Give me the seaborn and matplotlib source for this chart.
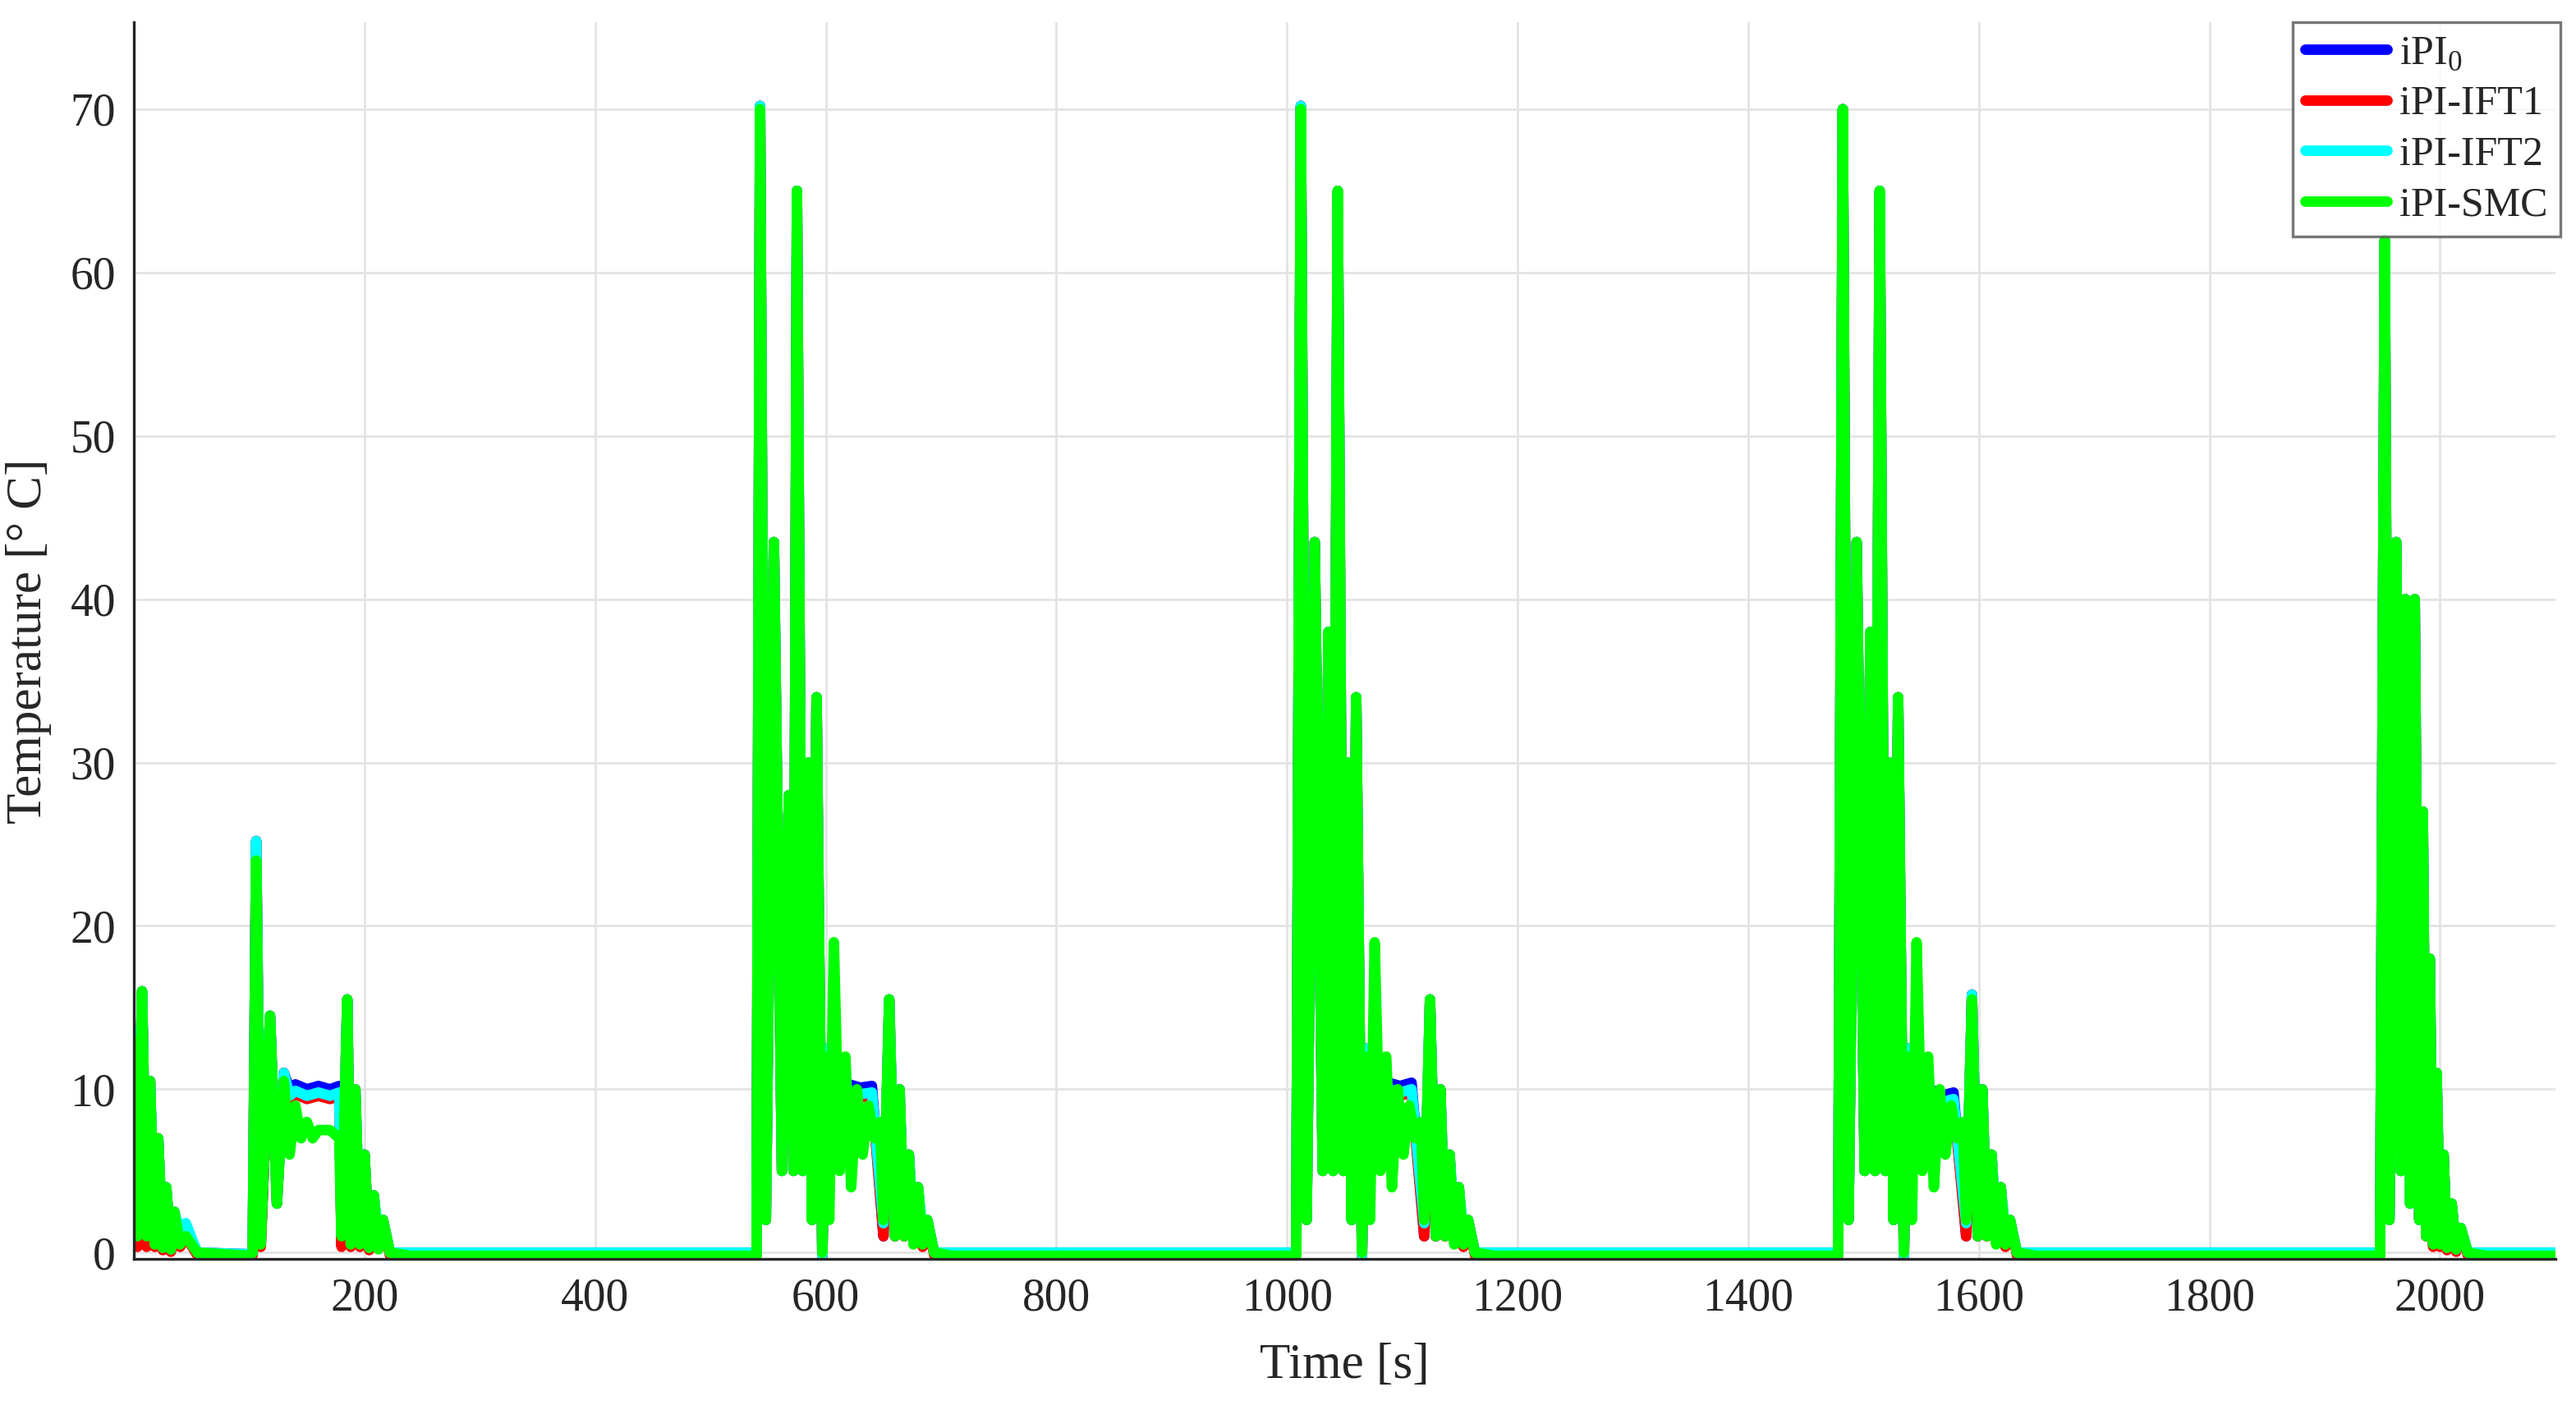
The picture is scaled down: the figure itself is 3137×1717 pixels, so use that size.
import numpy as np
import pandas as pd
import matplotlib
matplotlib.use("Agg")
import matplotlib.pyplot as plt
import seaborn as sns

series_names = ["iPI$_0$", "iPI-IFT1", "iPI-IFT2", "iPI-SMC"]
series_colors = ["#0000ff", "#ff0000", "#00ffff", "#00ff00"]

# --- green (iPI-SMC) keypoints ---
smc_t = [0, 3, 7, 11, 14, 18, 21, 25, 28, 32, 35, 40, 45, 55, 100,
         103, 106, 110, 118, 124, 130, 135, 140, 145, 150, 155, 160, 170, 178, 180, 185, 188, 192, 196, 200, 204, 208, 212, 216, 222, 240, 540,
         543, 548, 555, 562, 568, 572, 575, 580, 585, 588, 592, 597, 600, 603, 607, 612, 617, 622, 627, 632, 637, 642, 647, 650, 655, 660, 664, 668, 672, 676, 680, 684, 688, 694, 710, 1008,
         1012, 1017, 1024, 1031, 1036, 1040, 1044, 1049, 1053, 1056, 1060, 1065, 1068, 1072, 1076, 1081, 1086, 1091, 1096, 1101, 1106, 1111, 1116, 1119, 1124, 1129, 1133, 1137, 1141, 1145, 1149, 1153, 1157, 1163, 1180, 1478,
         1482, 1487, 1494, 1501, 1506, 1510, 1514, 1519, 1523, 1526, 1530, 1535, 1538, 1542, 1546, 1551, 1556, 1561, 1566, 1571, 1576, 1581, 1586, 1589, 1594, 1599, 1603, 1607, 1611, 1615, 1619, 1623, 1627, 1633, 1650, 1948,
         1952, 1956, 1962, 1966, 1970, 1974, 1978, 1982, 1985, 1988, 1991, 1994, 1997, 2000, 2003, 2006, 2010, 2014, 2018, 2024, 2040, 2100]
smc_v = [13, 1, 16, 1, 10.5, 0.5, 7, 0.3, 4, 0.2, 2.5, 0.5, 1, 0, -0.2,
         0, 24, 0.5, 14.5, 3, 10.5, 6, 9, 7, 8, 7, 7.5, 7.5, 7, 1, 15.5, 0.5, 10, 0.5, 6, 0.3, 3.5, 0.2, 2, 0, -0.2, -0.2,
         70, 2, 43.5, 5, 28, 5, 65, 5, 30, 2, 34, 0, 12, 2, 19, 5, 12, 4, 10, 6, 9, 7, 8, 2, 15.5, 1, 10, 1, 6, 0.5, 4, 0.5, 2, 0, -0.2, -0.2,
         70, 2, 43.5, 5, 38, 5, 65, 5, 30, 2, 34, 0, 12, 2, 19, 5, 12, 4, 10, 6, 9, 7, 8, 2, 15.5, 1, 10, 1, 6, 0.5, 4, 0.5, 2, 0, -0.2, -0.2,
         70, 2, 43.5, 5, 38, 5, 65, 5, 30, 2, 34, 0, 12, 2, 19, 5, 12, 4, 10, 6, 9, 7, 8, 2, 15.5, 1, 10, 1, 6, 0.5, 4, 0.5, 2, 0, -0.2, -0.2,
         62, 2, 43.5, 5, 40, 3, 40, 2, 27, 1, 18, 0.5, 11, 0.5, 6, 0.3, 3, 0.2, 1.5, 0, -0.2, -0.2]

# --- blue (iPI_0) keypoints: plateaus near 10 where the controller settles ---
pi0_t = [0, 3, 7, 11, 14, 18, 21, 25, 28, 32, 35, 40, 45, 55, 100,
         103, 106, 110, 118, 124, 130, 135, 140, 150, 160, 170, 178, 180, 185, 188, 192, 196, 200, 204, 208, 212, 216, 222, 240, 540,
         543, 548, 555, 562, 568, 572, 575, 580, 585, 588, 592, 597, 600, 610, 620, 630, 640, 650, 655, 660, 664, 668, 672, 676, 680, 684, 688, 694, 710, 1008,
         1012, 1017, 1024, 1031, 1036, 1040, 1044, 1049, 1053, 1056, 1060, 1065, 1068, 1078, 1088, 1098, 1108, 1119, 1124, 1129, 1133, 1137, 1141, 1145, 1149, 1153, 1157, 1163, 1180, 1478,
         1482, 1487, 1494, 1501, 1506, 1510, 1514, 1519, 1523, 1526, 1530, 1535, 1538, 1548, 1558, 1568, 1578, 1589, 1594, 1599, 1603, 1607, 1611, 1615, 1619, 1623, 1627, 1633, 1650, 1948,
         1952, 1956, 1962, 1966, 1970, 1974, 1978, 1982, 1985, 1988, 1991, 1994, 1997, 2000, 2003, 2006, 2010, 2014, 2018, 2024, 2040, 2100]
pi0_v = [13.5, 0.5, 16, 0.5, 10.5, 0.5, 7, 0.3, 4, 0.2, 2.5, 0.5, 1, 0, -0.1,
         0, 25.2, 0.5, 14.5, 3, 11, 10, 10.3, 10, 10.2, 10, 10.2, 0.5, 15.5, 0.5, 10, 0.5, 6, 0.3, 3.5, 0.5, 2, 0, 0, 0,
         70.2, 2, 43.5, 5, 28, 5, 65, 5, 30, 2, 34, -0.2, 12.5, 11, 10.3, 10.1, 10.2, 1, 15.5, 1, 10, 1, 6, 1, 4, 0.5, 2, 0, 0, 0,
         70.2, 2, 43.5, 5, 38, 5, 65, 5, 30, 2, 34, -0.2, 12.5, 11, 10.4, 10.2, 10.4, 1, 15.5, 1, 10, 1, 6, 1, 4, 0.5, 2, 0, 0, 0,
         70, 2, 43.5, 5, 38, 5, 65, 5, 30, 2, 34, -0.2, 12.5, 11, 10, 9.6, 9.8, 1, 15.8, 1, 10, 1, 6, 1, 4, 0.5, 2, 0, 0, 0,
         62, 2, 43.5, 5, 40, 3, 40, 2, 27, 1, 18, 0.5, 11, 0.5, 6, 0.3, 3, 0.2, 1.5, 0, 0, 0]

# --- red (iPI-IFT1) and cyan (iPI-IFT2) plateaus slightly below 10 ---
ift1_v = [v - 0.6 if 8 < v < 10.6 else (v - 0.15 if abs(v) < 0.6 else v) for v in pi0_v]
ift2_v = [v - 0.4 if 8 < v < 10.6 else (v + 0.8 if 0.4 < v < 1.2 else v) for v in pi0_v]
ift1_t = pi0_t
ift2_t = pi0_t

sns.set_theme(style="whitegrid")
plt.rcParams["font.family"] = ["Liberation Serif", "DejaVu Serif"]
plt.rcParams["mathtext.fontset"] = "custom"
plt.rcParams["mathtext.rm"] = "Liberation Serif"

fig, ax = plt.subplots(figsize=(15.685, 8.585), dpi=200)
fig.subplots_adjust(left=0.052, right=0.992, top=0.984, bottom=0.107)

data = [(pi0_t, pi0_v), (ift1_t, ift1_v), (ift2_t, ift2_v), (smc_t, smc_v)]
for (t, v), name, col in zip(data, series_names, series_colors):
    df = pd.DataFrame({"t": t, "v": v})
    sns.lineplot(data=df, x="t", y="v", ax=ax, color=col, lw=4.6, sort=False,
                 label=name, estimator=None)

ax.set_xlim(0, 2100)
ax.set_ylim(-0.4, 75.3)
ax.set_xticks([200, 400, 600, 800, 1000, 1200, 1400, 1600, 1800, 2000])
ax.set_yticks([0, 10, 20, 30, 40, 50, 60, 70])
ax.tick_params(labelsize=20, colors="#262626", direction="in", length=6, width=1, pad=8)
ax.set_xlabel("Time [s]", fontsize=22, color="#262626", labelpad=10)
ax.set_ylabel("Temperature [° C]", fontsize=22, color="#262626", labelpad=8)
ax.grid(True, color="#e3e3e3", lw=1)
for side in ["top", "right"]:
    ax.spines[side].set_visible(False)
for side in ["left", "bottom"]:
    ax.spines[side].set_color("#262626")
    ax.spines[side].set_linewidth(1.2)
leg = ax.legend(loc="upper right", fontsize=18, frameon=True, fancybox=False,
                borderaxespad=0.0, handlelength=2.0, labelspacing=0.3, borderpad=0.3,
                handletextpad=0.3, bbox_to_anchor=(1.002, 1.0))
leg.get_frame().set_edgecolor("#555555")
leg.get_frame().set_linewidth(1.2)
fig.savefig("out.png", dpi=200)
